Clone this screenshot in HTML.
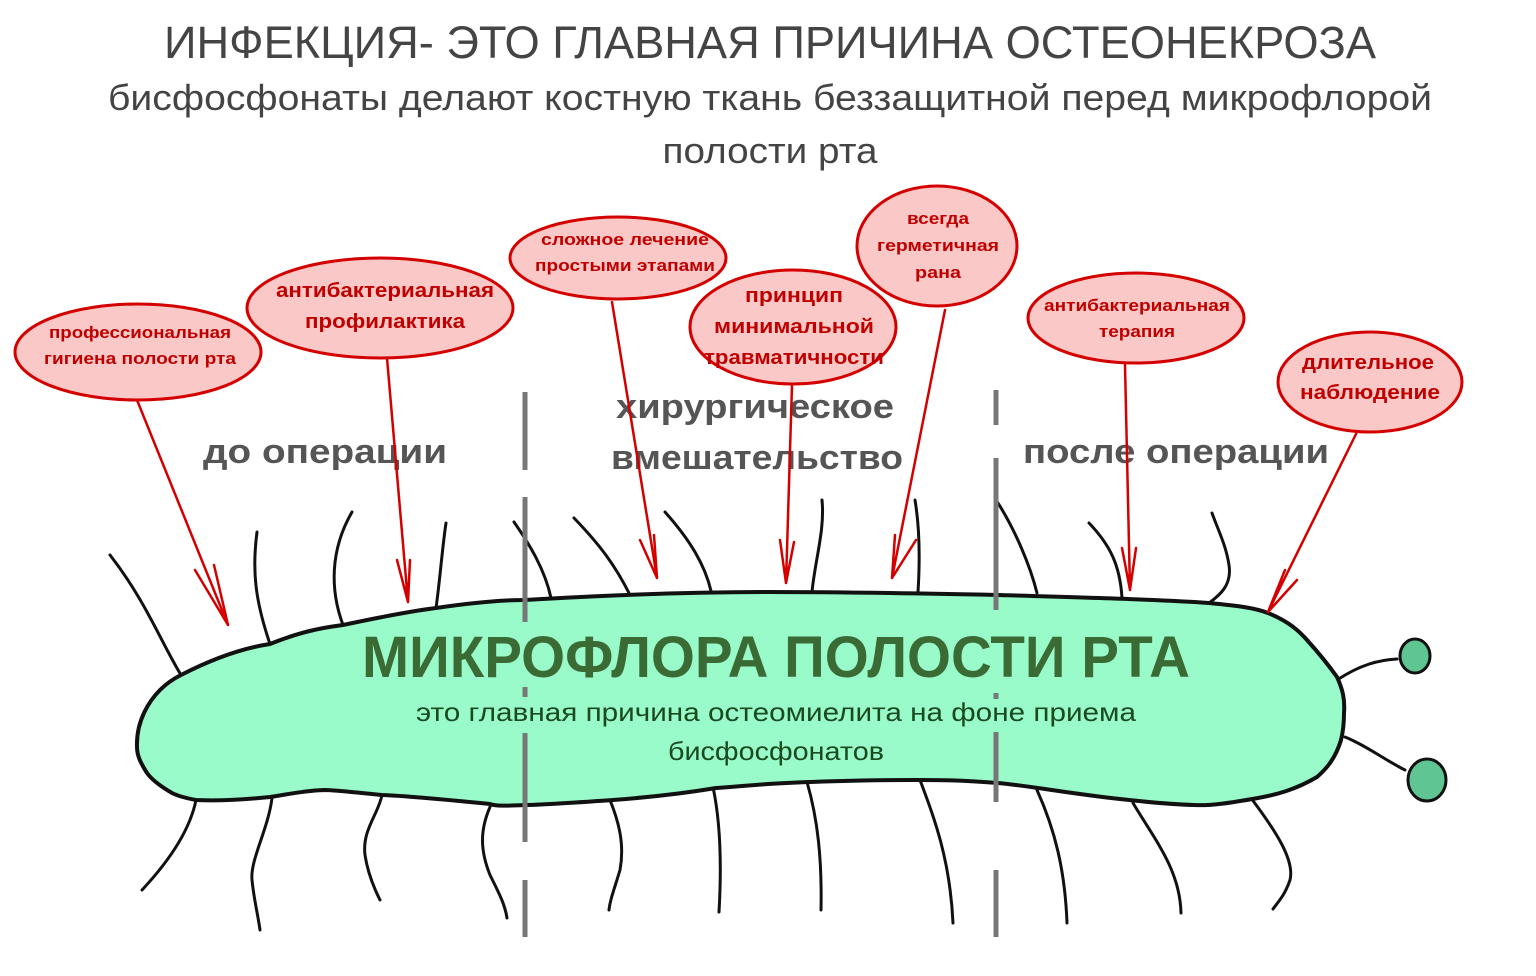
<!DOCTYPE html>
<html><head><meta charset="utf-8"><style>
html,body{margin:0;padding:0;background:#fff;}
svg{display:block;font-family:"Liberation Sans","DejaVu Sans",sans-serif;}
</style></head><body>
<svg width="1536" height="976" viewBox="0 0 1536 976" xmlns="http://www.w3.org/2000/svg">
<rect width="1536" height="976" fill="#fff"/>
<text x="770" y="58" font-size="45" fill="#444" text-anchor="middle" textLength="1212" lengthAdjust="spacingAndGlyphs">ИНФЕКЦИЯ- ЭТО ГЛАВНАЯ ПРИЧИНА ОСТЕОНЕКРОЗА</text>
<text x="770" y="110" font-size="36" fill="#444" text-anchor="middle" textLength="1324" lengthAdjust="spacingAndGlyphs">бисфосфонаты делают костную ткань беззащитной перед микрофлорой</text>
<text x="770" y="163" font-size="36" fill="#444" text-anchor="middle" textLength="215" lengthAdjust="spacingAndGlyphs">полости рта</text>

<g fill="none" stroke="#111" stroke-width="3" stroke-linecap="round">
<path d="M181,675 C160,640 145,600 110,555"/>
<path d="M270,644 C255,600 252,570 257,532"/>
<path d="M343,625 C330,590 330,550 352,512"/>
<path d="M436,608 C440,580 442,550 446,523"/>
<path d="M551,598 C545,570 530,545 514,522"/>
<path d="M630,595 C615,565 600,545 574,518"/>
<path d="M711,591 C705,565 690,540 665,512"/>
<path d="M812,592 C815,560 825,530 822,500"/>
<path d="M918,592 C920,560 920,530 915,500"/>
<path d="M1037,593 C1030,565 1015,530 998,503"/>
<path d="M1122,598 C1120,565 1110,545 1089,523"/>
<path d="M1209,603 C1220,595 1232,585 1229,565 C1226,545 1218,530 1212,513"/>
<path d="M196,800 C190,830 170,860 142,890"/>
<path d="M272,798 C268,830 250,860 252,880 C254,900 258,915 260,930"/>
<path d="M382,795 C378,815 362,830 365,855 C368,875 375,890 380,900"/>
<path d="M490,807 C480,830 480,850 490,875 C500,895 505,905 507,918"/>
<path d="M610,800 C618,820 625,843 620,870 C614,890 610,900 609,910"/>
<path d="M713,787 C720,820 722,860 719,912"/>
<path d="M807,782 C818,820 822,860 821,910"/>
<path d="M920,780 C935,820 950,860 953,923"/>
<path d="M1037,790 C1055,830 1065,870 1067,923"/>
<path d="M1133,803 C1155,840 1180,870 1181,913"/>
<path d="M1251,798 C1275,830 1295,860 1290,880 C1285,895 1278,902 1273,909"/>
<path d="M1337,680 C1360,665 1378,660 1397,659"/>
<path d="M1345,737 C1365,745 1385,760 1405,770"/>
</g>
<path d="M181,675 C220,655 250,647 270,644 C300,632 320,628 343,625 C390,615 420,610 436,608 C470,603 500,600 525,600 C560,598 600,596 627,595 C700,592 740,592 768,592 C850,592 950,594 998,595 C1100,598 1170,600 1209,603 C1240,606 1255,608 1268,613 C1290,622 1300,632 1307,640 C1325,660 1332,670 1337,677 C1343,690 1345,700 1344,713 C1344,725 1343,732 1341,740 C1335,760 1325,770 1317,777 C1295,790 1275,795 1258,798 C1230,803 1210,806 1194,805 C1160,804 1130,800 1111,798 C1060,792 1030,786 998,783 C960,780 940,780 915,780 C860,780 800,782 768,784 C745,786 730,787 716,788 C680,794 640,798 613,800 C570,803 540,805 525,805 C505,806 495,806 490,804 C450,800 410,796 382,795 C350,792 335,790 324,790 C300,791 285,795 270,797 C240,800 215,801 196,800 C185,798 178,796 172,793 C160,786 152,780 147,773 C140,762 137,755 137,747 C136,720 150,700 160,690 C168,682 175,678 181,675 Z" fill="#99fbc9" stroke="#111" stroke-width="4"/>
<ellipse cx="1415" cy="656" rx="15" ry="17" fill="#5fc693" stroke="#111" stroke-width="3"/>
<ellipse cx="1427" cy="780" rx="19" ry="21" fill="#5fc693" stroke="#111" stroke-width="3"/>

<g stroke="#777" stroke-width="5" stroke-linecap="butt">
<line x1="525" y1="392" x2="525" y2="470"/>
<line x1="525" y1="497" x2="525" y2="622"/>
<line x1="525" y1="687" x2="525" y2="697"/>
<line x1="525" y1="733" x2="525" y2="842"/>
<line x1="525" y1="880" x2="525" y2="937"/>
<line x1="996" y1="390" x2="996" y2="425"/>
<line x1="996" y1="458" x2="996" y2="610"/>
<line x1="996" y1="693" x2="996" y2="699"/>
<line x1="996" y1="732" x2="996" y2="802"/>
<line x1="996" y1="870" x2="996" y2="937"/>
</g>

<text x="776" y="677" font-size="58" font-weight="bold" fill="#3b6b35" text-anchor="middle" textLength="828" lengthAdjust="spacingAndGlyphs">МИКРОФЛОРА ПОЛОСТИ РТА</text>
<text x="776" y="721" font-size="26" fill="#1b4a1f" text-anchor="middle" textLength="720" lengthAdjust="spacingAndGlyphs">это главная причина остеомиелита на фоне приема</text>
<text x="776" y="760" font-size="26" fill="#1b4a1f" text-anchor="middle" textLength="216" lengthAdjust="spacingAndGlyphs">бисфосфонатов</text>

<g font-size="34" font-weight="bold" fill="#555" text-anchor="middle">
<text x="325" y="463" textLength="244" lengthAdjust="spacingAndGlyphs">до операции</text>
<text x="755" y="418" textLength="278" lengthAdjust="spacingAndGlyphs">хирургическое</text>
<text x="757" y="469" textLength="292" lengthAdjust="spacingAndGlyphs">вмешательство</text>
<text x="1176" y="463" textLength="306" lengthAdjust="spacingAndGlyphs">после операции</text>
</g>

<g fill="none" stroke="#d40000" stroke-width="2.5" stroke-linecap="round" stroke-linejoin="round">
<path d="M137,400 L228,625 M228,625 L195,570 M228,625 L214,565"/>
<path d="M387,358 L408,602 M408,602 L397,560 M408,602 L410,560"/>
<path d="M612,302 L657,578 M657,578 L640,540 M657,578 L654,535"/>
<path d="M792,385 L786,583 M786,583 L780,540 M786,583 L794,542"/>
<path d="M945,310 L892,578 M892,578 L895,535 M892,578 L916,540"/>
<path d="M1125,365 L1130,590 M1130,590 L1122,548 M1130,590 L1136,548"/>
<path d="M1357,432 L1268,612 M1268,612 L1285,570 M1268,612 L1297,580"/>
</g>

<g fill="#fac8c6" stroke="#d40000" stroke-width="3">
<ellipse cx="138" cy="352" rx="123" ry="48"/>
<ellipse cx="380" cy="308" rx="133" ry="50"/>
<ellipse cx="618" cy="258" rx="108" ry="41"/>
<ellipse cx="793" cy="327" rx="103" ry="57"/>
<ellipse cx="937" cy="246" rx="80" ry="60"/>
<ellipse cx="1136" cy="318" rx="108" ry="45"/>
<ellipse cx="1370" cy="382" rx="92" ry="50"/>
</g>
<g font-weight="bold" fill="#c00000" text-anchor="middle">
<text x="140" y="338" font-size="17" textLength="182" lengthAdjust="spacingAndGlyphs">профессиональная</text>
<text x="140" y="364" font-size="17" textLength="192" lengthAdjust="spacingAndGlyphs">гигиена полости рта</text>
<text x="385" y="297" font-size="20" textLength="218" lengthAdjust="spacingAndGlyphs">антибактериальная</text>
<text x="385" y="328" font-size="20" textLength="160" lengthAdjust="spacingAndGlyphs">профилактика</text>
<text x="625" y="245" font-size="17" textLength="168" lengthAdjust="spacingAndGlyphs">сложное лечение</text>
<text x="625" y="271" font-size="17" textLength="180" lengthAdjust="spacingAndGlyphs">простыми этапами</text>
<text x="794" y="302" font-size="20" textLength="98" lengthAdjust="spacingAndGlyphs">принцип</text>
<text x="794" y="333" font-size="20" textLength="160" lengthAdjust="spacingAndGlyphs">минимальной</text>
<text x="794" y="364" font-size="20" textLength="180" lengthAdjust="spacingAndGlyphs">травматичности</text>
<text x="938" y="224" font-size="17" textLength="62" lengthAdjust="spacingAndGlyphs">всегда</text>
<text x="938" y="251" font-size="17" textLength="122" lengthAdjust="spacingAndGlyphs">герметичная</text>
<text x="938" y="278" font-size="17" textLength="46" lengthAdjust="spacingAndGlyphs">рана</text>
<text x="1137" y="311" font-size="17" textLength="186" lengthAdjust="spacingAndGlyphs">антибактериальная</text>
<text x="1137" y="337" font-size="17" textLength="76" lengthAdjust="spacingAndGlyphs">терапия</text>
<text x="1368" y="369" font-size="20" textLength="132" lengthAdjust="spacingAndGlyphs">длительное</text>
<text x="1370" y="399" font-size="20" textLength="140" lengthAdjust="spacingAndGlyphs">наблюдение</text>
</g>
</svg>
</body></html>
